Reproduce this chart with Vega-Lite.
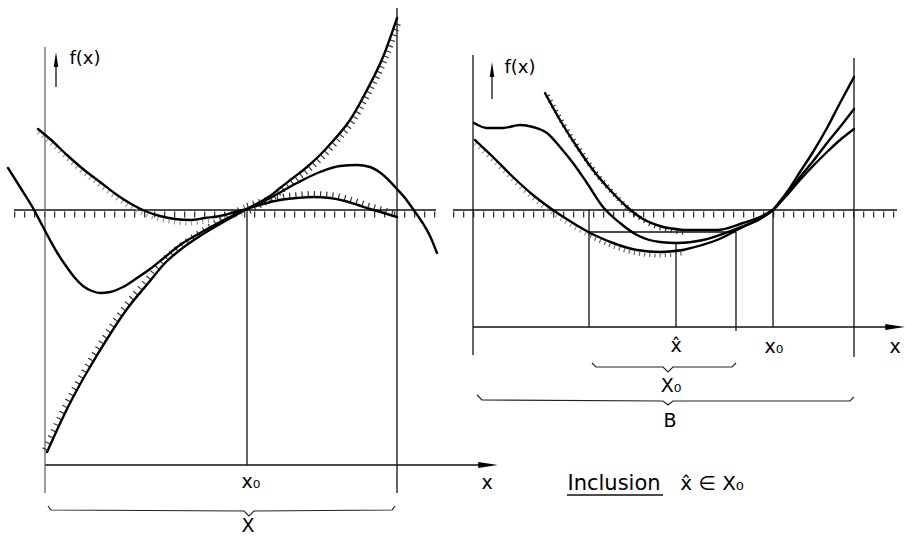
{
  "$schema": "https://vega.github.io/schema/vega-lite/v6.json",
  "width": 905,
  "height": 537,
  "autosize": {"type": "none"},
  "padding": 0,
  "background": "white",
  "config": {"view": {"stroke": null}},
  "datasets": {
    "zeros": [
      {"p": "L", "x": 14, "y": 210}, {"p": "L", "x": 436, "y": 210},
      {"p": "R", "x": 453, "y": 210}, {"p": "R", "x": 897, "y": 210}
    ],
    "segs": [
      {"k": "main", "x": 397, "y": 8, "x2": 397, "y2": 493},
      {"k": "main", "x": 247, "y": 209, "x2": 247, "y2": 465},
      {"k": "main", "x": 45, "y": 465, "x2": 482, "y2": 465},
      {"k": "main", "x": 56, "y": 62, "x2": 56, "y2": 87},
      {"k": "main", "x": 854, "y": 58, "x2": 854, "y2": 357},
      {"k": "main", "x": 473, "y": 55, "x2": 473, "y2": 355},
      {"k": "main", "x": 473, "y": 327, "x2": 890, "y2": 327},
      {"k": "main", "x": 589, "y": 210, "x2": 589, "y2": 327},
      {"k": "main", "x": 676, "y": 243, "x2": 676, "y2": 327},
      {"k": "main", "x": 736, "y": 232, "x2": 736, "y2": 331},
      {"k": "main", "x": 773, "y": 210, "x2": 773, "y2": 327},
      {"k": "main", "x": 589, "y": 232, "x2": 736, "y2": 232},
      {"k": "main", "x": 492, "y": 72, "x2": 492, "y2": 99},
      {"k": "main", "x": 567, "y": 495, "x2": 663, "y2": 495},
      {"k": "light", "x": 45, "y": 47, "x2": 45, "y2": 493}
    ],
    "curves": [
      {"c": "Lf", "x": 8, "y": 168}, {"c": "Lf", "x": 20, "y": 187}, {"c": "Lf", "x": 33, "y": 208},
      {"c": "Lf", "x": 42, "y": 225}, {"c": "Lf", "x": 50, "y": 240}, {"c": "Lf", "x": 58, "y": 254},
      {"c": "Lf", "x": 66, "y": 266}, {"c": "Lf", "x": 75, "y": 278}, {"c": "Lf", "x": 83, "y": 286},
      {"c": "Lf", "x": 92, "y": 291}, {"c": "Lf", "x": 100, "y": 293}, {"c": "Lf", "x": 110, "y": 292},
      {"c": "Lf", "x": 123, "y": 287}, {"c": "Lf", "x": 137, "y": 278}, {"c": "Lf", "x": 150, "y": 269},
      {"c": "Lf", "x": 165, "y": 257}, {"c": "Lf", "x": 180, "y": 245}, {"c": "Lf", "x": 200, "y": 233},
      {"c": "Lf", "x": 220, "y": 222}, {"c": "Lf", "x": 247, "y": 209}, {"c": "Lf", "x": 270, "y": 198},
      {"c": "Lf", "x": 297, "y": 183}, {"c": "Lf", "x": 320, "y": 172}, {"c": "Lf", "x": 340, "y": 166},
      {"c": "Lf", "x": 357, "y": 165}, {"c": "Lf", "x": 370, "y": 167}, {"c": "Lf", "x": 382, "y": 174},
      {"c": "Lf", "x": 397, "y": 189}, {"c": "Lf", "x": 405, "y": 198}, {"c": "Lf", "x": 413, "y": 209},
      {"c": "Lf", "x": 422, "y": 222}, {"c": "Lf", "x": 430, "y": 236}, {"c": "Lf", "x": 437, "y": 253},

      {"c": "LuL", "x": 38, "y": 129}, {"c": "LuL", "x": 50, "y": 139}, {"c": "LuL", "x": 67, "y": 155},
      {"c": "LuL", "x": 83, "y": 169}, {"c": "LuL", "x": 100, "y": 182}, {"c": "LuL", "x": 117, "y": 195},
      {"c": "LuL", "x": 133, "y": 205}, {"c": "LuL", "x": 145, "y": 211}, {"c": "LuL", "x": 160, "y": 216},
      {"c": "LuL", "x": 175, "y": 219}, {"c": "LuL", "x": 190, "y": 220}, {"c": "LuL", "x": 205, "y": 218},
      {"c": "LuL", "x": 220, "y": 216}, {"c": "LuL", "x": 235, "y": 212}, {"c": "LuL", "x": 247, "y": 209},

      {"c": "LuR", "x": 247, "y": 209}, {"c": "LuR", "x": 260, "y": 202}, {"c": "LuR", "x": 270, "y": 196},
      {"c": "LuR", "x": 280, "y": 188}, {"c": "LuR", "x": 293, "y": 178}, {"c": "LuR", "x": 307, "y": 167},
      {"c": "LuR", "x": 320, "y": 155}, {"c": "LuR", "x": 333, "y": 141}, {"c": "LuR", "x": 350, "y": 120},
      {"c": "LuR", "x": 367, "y": 90}, {"c": "LuR", "x": 383, "y": 57}, {"c": "LuR", "x": 397, "y": 18},

      {"c": "LlL", "x": 47, "y": 452}, {"c": "LlL", "x": 57, "y": 430}, {"c": "LlL", "x": 67, "y": 409},
      {"c": "LlL", "x": 78, "y": 388}, {"c": "LlL", "x": 90, "y": 367}, {"c": "LlL", "x": 107, "y": 339},
      {"c": "LlL", "x": 127, "y": 309}, {"c": "LlL", "x": 150, "y": 281}, {"c": "LlL", "x": 165, "y": 263},
      {"c": "LlL", "x": 180, "y": 250}, {"c": "LlL", "x": 200, "y": 236}, {"c": "LlL", "x": 220, "y": 224},
      {"c": "LlL", "x": 247, "y": 209},

      {"c": "LlR", "x": 247, "y": 209}, {"c": "LlR", "x": 263, "y": 204}, {"c": "LlR", "x": 280, "y": 200},
      {"c": "LlR", "x": 297, "y": 198}, {"c": "LlR", "x": 313, "y": 197}, {"c": "LlR", "x": 330, "y": 198},
      {"c": "LlR", "x": 345, "y": 201}, {"c": "LlR", "x": 358, "y": 205}, {"c": "LlR", "x": 370, "y": 209},
      {"c": "LlR", "x": 384, "y": 213}, {"c": "LlR", "x": 397, "y": 217},

      {"c": "Rf", "x": 474, "y": 123}, {"c": "Rf", "x": 487, "y": 128}, {"c": "Rf", "x": 503, "y": 128},
      {"c": "Rf", "x": 520, "y": 125}, {"c": "Rf", "x": 533, "y": 127}, {"c": "Rf", "x": 547, "y": 133},
      {"c": "Rf", "x": 560, "y": 147}, {"c": "Rf", "x": 573, "y": 163}, {"c": "Rf", "x": 587, "y": 183},
      {"c": "Rf", "x": 603, "y": 207}, {"c": "Rf", "x": 620, "y": 223}, {"c": "Rf", "x": 637, "y": 235},
      {"c": "Rf", "x": 660, "y": 242}, {"c": "Rf", "x": 677, "y": 243}, {"c": "Rf", "x": 703, "y": 240},
      {"c": "Rf", "x": 733, "y": 230}, {"c": "Rf", "x": 755, "y": 221}, {"c": "Rf", "x": 773, "y": 210},
      {"c": "Rf", "x": 787, "y": 194}, {"c": "Rf", "x": 800, "y": 177}, {"c": "Rf", "x": 814, "y": 160},
      {"c": "Rf", "x": 827, "y": 143}, {"c": "Rf", "x": 840, "y": 127}, {"c": "Rf", "x": 854, "y": 109},

      {"c": "RuL1", "x": 545, "y": 93}, {"c": "RuL1", "x": 560, "y": 120}, {"c": "RuL1", "x": 577, "y": 147},
      {"c": "RuL1", "x": 593, "y": 170}, {"c": "RuL1", "x": 610, "y": 190}, {"c": "RuL1", "x": 627, "y": 207},
      {"c": "RuL1", "x": 643, "y": 219}, {"c": "RuL1", "x": 660, "y": 226}, {"c": "RuL1", "x": 683, "y": 230},
      {"c": "RuL2", "x": 683, "y": 230}, {"c": "RuL2", "x": 717, "y": 230}, {"c": "RuL2", "x": 743, "y": 223},
      {"c": "RuL2", "x": 760, "y": 217}, {"c": "RuL2", "x": 773, "y": 210},
      {"c": "RuR", "x": 773, "y": 210}, {"c": "RuR", "x": 787, "y": 192}, {"c": "RuR", "x": 800, "y": 172},
      {"c": "RuR", "x": 813, "y": 152}, {"c": "RuR", "x": 827, "y": 128}, {"c": "RuR", "x": 840, "y": 103},
      {"c": "RuR", "x": 854, "y": 77},

      {"c": "RlL1", "x": 475, "y": 140}, {"c": "RlL1", "x": 493, "y": 157}, {"c": "RlL1", "x": 513, "y": 177},
      {"c": "RlL1", "x": 533, "y": 195}, {"c": "RlL1", "x": 553, "y": 210}, {"c": "RlL1", "x": 573, "y": 223},
      {"c": "RlL1", "x": 590, "y": 233},
      {"c": "RlL2", "x": 590, "y": 233}, {"c": "RlL2", "x": 613, "y": 243}, {"c": "RlL2", "x": 637, "y": 250},
      {"c": "RlL2", "x": 660, "y": 252}, {"c": "RlL2", "x": 683, "y": 250},
      {"c": "RlL3", "x": 683, "y": 250}, {"c": "RlL3", "x": 717, "y": 240}, {"c": "RlL3", "x": 743, "y": 227},
      {"c": "RlL3", "x": 760, "y": 219}, {"c": "RlL3", "x": 773, "y": 210},
      {"c": "RlR", "x": 773, "y": 210}, {"c": "RlR", "x": 787, "y": 195}, {"c": "RlR", "x": 800, "y": 180},
      {"c": "RlR", "x": 813, "y": 166}, {"c": "RlR", "x": 827, "y": 152}, {"c": "RlR", "x": 840, "y": 140},
      {"c": "RlR", "x": 854, "y": 129}
    ],
    "braces": [
      {"b": "X", "x": 48, "y": 506}, {"b": "X", "x": 51, "y": 510}, {"b": "X", "x": 244, "y": 511},
      {"b": "X", "x": 249, "y": 516}, {"b": "X", "x": 254, "y": 511}, {"b": "X", "x": 392, "y": 510},
      {"b": "X", "x": 395, "y": 506},
      {"b": "X0", "x": 592, "y": 363}, {"b": "X0", "x": 596, "y": 367}, {"b": "X0", "x": 663, "y": 367},
      {"b": "X0", "x": 668, "y": 372}, {"b": "X0", "x": 673, "y": 367}, {"b": "X0", "x": 732, "y": 367},
      {"b": "X0", "x": 736, "y": 363},
      {"b": "B", "x": 477, "y": 395}, {"b": "B", "x": 482, "y": 400}, {"b": "B", "x": 663, "y": 401},
      {"b": "B", "x": 668, "y": 405}, {"b": "B", "x": 673, "y": 401}, {"b": "B", "x": 850, "y": 401},
      {"b": "B", "x": 854, "y": 397}
    ],
    "arrows": [
      {"d": "right", "x": 488, "y": 465},
      {"d": "right", "x": 895, "y": 327},
      {"d": "up", "x": 56, "y": 59.5},
      {"d": "up", "x": 492, "y": 69.5}
    ],
    "labels": [
      {"t": "f(x)", "x": 85, "y": 64, "r": "f"},
      {"t": "f(x)", "x": 520, "y": 73, "r": "f"},
      {"t": "x₀", "x": 251, "y": 488, "r": "n"},
      {"t": "X", "x": 248, "y": 532, "r": "n"},
      {"t": "x", "x": 487, "y": 489, "r": "n"},
      {"t": "x̂", "x": 676, "y": 352, "r": "n"},
      {"t": "x₀", "x": 774, "y": 353, "r": "n"},
      {"t": "X₀", "x": 671, "y": 392, "r": "n"},
      {"t": "B", "x": 670, "y": 427, "r": "n"},
      {"t": "x", "x": 895, "y": 353, "r": "n"},
      {"t": "Inclusion", "x": 614, "y": 490, "r": "i"},
      {"t": "x̂ ∈ X₀", "x": 712, "y": 490, "r": "e"}
    ]
  },
  "encoding": {
    "x": {"field": "x", "type": "quantitative", "axis": null, "scale": {"domain": [0, 905], "nice": false, "zero": false}},
    "y": {"field": "y", "type": "quantitative", "axis": null, "scale": {"domain": [0, 537], "nice": false, "zero": false, "reverse": true}}
  },
  "layer": [
    {
      "data": {"name": "zeros"},
      "mark": {"type": "line", "color": "#333", "strokeWidth": 6, "strokeDash": [1.3, 8.7], "yOffset": 4.5},
      "encoding": {"detail": {"field": "p"}}
    },
    {
      "data": {"name": "zeros"},
      "mark": {"type": "line", "color": "#111", "strokeWidth": 1.6},
      "encoding": {"detail": {"field": "p"}}
    },
    {
      "data": {"name": "segs"},
      "transform": [{"filter": "datum.k === 'main'"}],
      "mark": {"type": "rule", "color": "#111", "strokeWidth": 1.3},
      "encoding": {"x2": {"field": "x2"}, "y2": {"field": "y2"}}
    },
    {
      "data": {"name": "segs"},
      "transform": [{"filter": "datum.k === 'light'"}],
      "mark": {"type": "rule", "color": "#666", "strokeWidth": 1.3},
      "encoding": {"x2": {"field": "x2"}, "y2": {"field": "y2"}}
    },
    {
      "data": {"name": "curves"},
      "transform": [{"filter": "indexof(['LuL','RlL1'], datum.c) >= 0"}],
      "mark": {"type": "line", "interpolate": "monotone", "color": "#999", "strokeWidth": 4, "strokeDash": [1.2, 4.5], "yOffset": 3.5},
      "encoding": {"detail": {"field": "c"}}
    },
    {
      "data": {"name": "curves"},
      "transform": [{"filter": "indexof(['LuR','RuL1'], datum.c) >= 0"}],
      "mark": {"type": "line", "interpolate": "monotone", "color": "#333", "strokeWidth": 5, "strokeDash": [1.2, 4.5], "xOffset": 2.5, "yOffset": 2.5},
      "encoding": {"detail": {"field": "c"}}
    },
    {
      "data": {"name": "curves"},
      "transform": [{"filter": "indexof(['LlL'], datum.c) >= 0"}],
      "mark": {"type": "line", "interpolate": "monotone", "color": "#333", "strokeWidth": 5, "strokeDash": [1.2, 5.5], "xOffset": -2.5, "yOffset": -2.5},
      "encoding": {"detail": {"field": "c"}}
    },
    {
      "data": {"name": "curves"},
      "transform": [{"filter": "indexof(['LlR'], datum.c) >= 0"}],
      "mark": {"type": "line", "interpolate": "monotone", "color": "#333", "strokeWidth": 5, "strokeDash": [1.2, 5], "yOffset": -3.5},
      "encoding": {"detail": {"field": "c"}}
    },
    {
      "data": {"name": "curves"},
      "transform": [{"filter": "indexof(['RlL2'], datum.c) >= 0"}],
      "mark": {"type": "line", "interpolate": "monotone", "color": "#666", "strokeWidth": 4, "strokeDash": [1.2, 4], "yOffset": 3.5},
      "encoding": {"detail": {"field": "c"}}
    },
    {
      "data": {"name": "curves"},
      "mark": {"type": "line", "interpolate": "monotone", "color": "#000", "strokeWidth": 2.4, "strokeCap": "round"},
      "encoding": {"detail": {"field": "c"}}
    },
    {
      "data": {"name": "braces"},
      "mark": {"type": "line", "color": "#222", "strokeWidth": 1.2},
      "encoding": {"detail": {"field": "b"}}
    },
    {
      "data": {"name": "arrows"},
      "transform": [{"filter": "datum.d === 'right'"}],
      "mark": {"type": "point", "filled": true, "color": "#000", "opacity": 1, "shape": "M1,0L-1,-0.3L-1,0.3Z", "size": 380}
    },
    {
      "data": {"name": "arrows"},
      "transform": [{"filter": "datum.d === 'up'"}],
      "mark": {"type": "point", "filled": true, "color": "#000", "opacity": 1, "shape": "M0,-1L-0.3,1L0.3,1Z", "size": 225}
    },
    {
      "data": {"name": "labels"},
      "transform": [{"filter": "datum.r === 'f'"}],
      "mark": {"type": "text", "font": "DejaVu Sans", "fontSize": 18, "align": "center", "baseline": "alphabetic", "color": "#000"},
      "encoding": {"text": {"field": "t"}}
    },
    {
      "data": {"name": "labels"},
      "transform": [{"filter": "datum.r === 'n'"}],
      "mark": {"type": "text", "font": "DejaVu Sans", "fontSize": 19, "align": "center", "baseline": "alphabetic", "color": "#000"},
      "encoding": {"text": {"field": "t"}}
    },
    {
      "data": {"name": "labels"},
      "transform": [{"filter": "datum.r === 'i'"}],
      "mark": {"type": "text", "font": "DejaVu Sans", "fontSize": 21, "align": "center", "baseline": "alphabetic", "color": "#000"},
      "encoding": {"text": {"field": "t"}}
    },
    {
      "data": {"name": "labels"},
      "transform": [{"filter": "datum.r === 'e'"}],
      "mark": {"type": "text", "font": "DejaVu Sans", "fontSize": 20, "align": "center", "baseline": "alphabetic", "color": "#000"},
      "encoding": {"text": {"field": "t"}}
    }
  ]
}
